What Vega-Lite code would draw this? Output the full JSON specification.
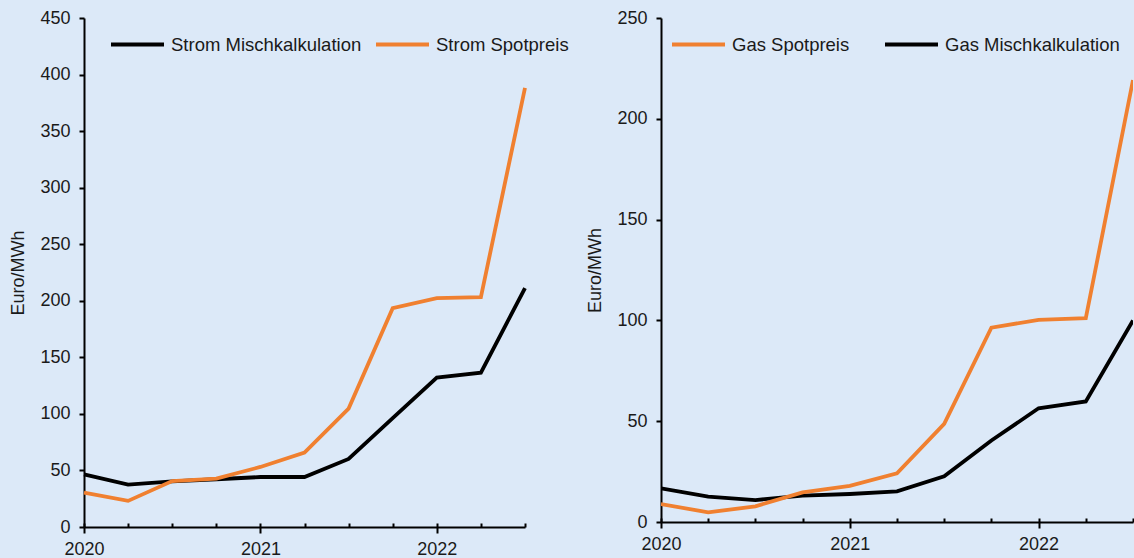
{
  "$schema": "https://vega.github.io/schema/vega-lite/v6.json",
  "background": "#dce9f8",
  "padding": {"left": 9, "top": 9, "right": 0, "bottom": 0},
  "spacing": 17,
  "config": {
    "font": "Liberation Sans",
    "view": {"stroke": null},
    "axis": {
      "domainColor": "#000000",
      "domainWidth": 2,
      "tickColor": "#000000",
      "tickWidth": 2,
      "labelColor": "#1a1a1a",
      "labelFontSize": 18,
      "titleFontSize": 18,
      "titleFontWeight": "normal",
      "titleColor": "#1a1a1a",
      "grid": false
    },
    "legend": {
      "labelFontSize": 18.5,
      "labelColor": "#1a1a1a",
      "symbolType": "stroke",
      "symbolSize": 2809,
      "symbolStrokeWidth": 4,
      "labelOffset": 5,
      "labelLimit": 400
    }
  },
  "datasets": {
    "strom": [
      {"t": 2020.0, "series": "Strom Mischkalkulation", "value": 46.6},
      {"t": 2020.25, "series": "Strom Mischkalkulation", "value": 37.4},
      {"t": 2020.5, "series": "Strom Mischkalkulation", "value": 40.4},
      {"t": 2020.75, "series": "Strom Mischkalkulation", "value": 42.2},
      {"t": 2021.0, "series": "Strom Mischkalkulation", "value": 44.2},
      {"t": 2021.25, "series": "Strom Mischkalkulation", "value": 44.2},
      {"t": 2021.5, "series": "Strom Mischkalkulation", "value": 60.2},
      {"t": 2021.75, "series": "Strom Mischkalkulation", "value": 96.2},
      {"t": 2022.0, "series": "Strom Mischkalkulation", "value": 132.1},
      {"t": 2022.25, "series": "Strom Mischkalkulation", "value": 136.5},
      {"t": 2022.5, "series": "Strom Mischkalkulation", "value": 211.2},
      {"t": 2020.0, "series": "Strom Spotpreis", "value": 30.3},
      {"t": 2020.25, "series": "Strom Spotpreis", "value": 23.1},
      {"t": 2020.5, "series": "Strom Spotpreis", "value": 40.6},
      {"t": 2020.75, "series": "Strom Spotpreis", "value": 42.7},
      {"t": 2021.0, "series": "Strom Spotpreis", "value": 53.1},
      {"t": 2021.25, "series": "Strom Spotpreis", "value": 65.8},
      {"t": 2021.5, "series": "Strom Spotpreis", "value": 104.7},
      {"t": 2021.75, "series": "Strom Spotpreis", "value": 193.5},
      {"t": 2022.0, "series": "Strom Spotpreis", "value": 202.4},
      {"t": 2022.25, "series": "Strom Spotpreis", "value": 203.3},
      {"t": 2022.5, "series": "Strom Spotpreis", "value": 388.2}
    ],
    "gas": [
      {"t": 2020.0, "series": "Gas Mischkalkulation", "value": 16.7},
      {"t": 2020.25, "series": "Gas Mischkalkulation", "value": 12.6},
      {"t": 2020.5, "series": "Gas Mischkalkulation", "value": 10.9},
      {"t": 2020.75, "series": "Gas Mischkalkulation", "value": 13.1},
      {"t": 2021.0, "series": "Gas Mischkalkulation", "value": 13.9},
      {"t": 2021.25, "series": "Gas Mischkalkulation", "value": 15.2},
      {"t": 2021.5, "series": "Gas Mischkalkulation", "value": 22.7},
      {"t": 2021.75, "series": "Gas Mischkalkulation", "value": 40.4},
      {"t": 2022.0, "series": "Gas Mischkalkulation", "value": 56.4},
      {"t": 2022.25, "series": "Gas Mischkalkulation", "value": 59.8},
      {"t": 2022.5, "series": "Gas Mischkalkulation", "value": 100.0},
      {"t": 2020.0, "series": "Gas Spotpreis", "value": 8.9},
      {"t": 2020.25, "series": "Gas Spotpreis", "value": 4.8},
      {"t": 2020.5, "series": "Gas Spotpreis", "value": 7.8},
      {"t": 2020.75, "series": "Gas Spotpreis", "value": 14.7},
      {"t": 2021.0, "series": "Gas Spotpreis", "value": 17.9},
      {"t": 2021.25, "series": "Gas Spotpreis", "value": 24.2},
      {"t": 2021.5, "series": "Gas Spotpreis", "value": 48.7},
      {"t": 2021.75, "series": "Gas Spotpreis", "value": 96.4},
      {"t": 2022.0, "series": "Gas Spotpreis", "value": 100.3},
      {"t": 2022.25, "series": "Gas Spotpreis", "value": 101.1},
      {"t": 2022.5, "series": "Gas Spotpreis", "value": 219.2}
    ]
  },
  "resolve": {
    "scale": {"color": "independent", "x": "independent", "y": "independent"},
    "legend": {"color": "independent"}
  },
  "hconcat": [
    {
      "width": 441,
      "height": 509,
      "data": {"name": "strom"},
      "resolve": {"axis": {"x": "independent"}},
      "layer": [
        {
          "mark": {"type": "line", "strokeWidth": 3.8},
          "encoding": {
            "x": {
              "field": "t", "type": "quantitative",
              "scale": {"domain": [2020, 2022.5], "nice": false, "zero": false},
              "axis": {"orient": "bottom", "title": null, "values": [2020, 2021, 2022], "format": "d", "tickSize": 6, "labelPadding": 7, "labelFlush": false}
            },
            "y": {
              "field": "value", "type": "quantitative",
              "scale": {"domain": [0, 450], "nice": false},
              "axis": {"title": "Euro/MWh", "values": [0, 50, 100, 150, 200, 250, 300, 350, 400, 450], "tickSize": 5, "labelPadding": 9, "titlePadding": 12}
            },
            "color": {
              "field": "series", "type": "nominal",
              "scale": {"domain": ["Strom Mischkalkulation", "Strom Spotpreis"], "range": ["#000000", "#f08030"]},
              "legend": {"title": null, "orient": "none", "legendX": 25, "legendY": -2, "direction": "horizontal", "columnPadding": 6}
            }
          }
        },
        {
          "mark": {"type": "line", "opacity": 0},
          "encoding": {
            "x": {
              "field": "t", "type": "quantitative",
              "axis": {"orient": "bottom", "title": null, "values": [2020, 2020.25, 2020.5, 2020.75, 2021, 2021.25, 2021.5, 2021.75, 2022, 2022.25, 2022.5], "tickSize": -4, "labels": false, "domain": false}
            },
            "y": {"field": "value", "type": "quantitative"}
          }
        }
      ]
    },
    {
      "width": 472,
      "height": 504,
      "data": {"name": "gas"},
      "resolve": {"axis": {"x": "independent"}},
      "layer": [
        {
          "mark": {"type": "line", "strokeWidth": 3.8, "clip": true},
          "encoding": {
            "x": {
              "field": "t", "type": "quantitative",
              "scale": {"domain": [2020, 2022.5], "nice": false, "zero": false},
              "axis": {"orient": "bottom", "title": null, "values": [2020, 2021, 2022], "format": "d", "tickSize": 6, "labelPadding": 7, "labelFlush": false}
            },
            "y": {
              "field": "value", "type": "quantitative",
              "scale": {"domain": [0, 250], "nice": false},
              "axis": {"title": "Euro/MWh", "values": [0, 50, 100, 150, 200, 250], "tickSize": 5, "labelPadding": 9, "titlePadding": 12}
            },
            "color": {
              "field": "series", "type": "nominal",
              "scale": {"domain": ["Gas Spotpreis", "Gas Mischkalkulation"], "range": ["#f08030", "#000000"]},
              "legend": {"title": null, "orient": "none", "legendX": 9, "legendY": -2, "direction": "horizontal", "columnPadding": 27}
            }
          }
        },
        {
          "mark": {"type": "line", "opacity": 0},
          "encoding": {
            "x": {
              "field": "t", "type": "quantitative",
              "axis": {"orient": "bottom", "title": null, "values": [2020, 2020.25, 2020.5, 2020.75, 2021, 2021.25, 2021.5, 2021.75, 2022, 2022.25, 2022.5], "tickSize": -4, "labels": false, "domain": false}
            },
            "y": {"field": "value", "type": "quantitative"}
          }
        }
      ]
    }
  ]
}
